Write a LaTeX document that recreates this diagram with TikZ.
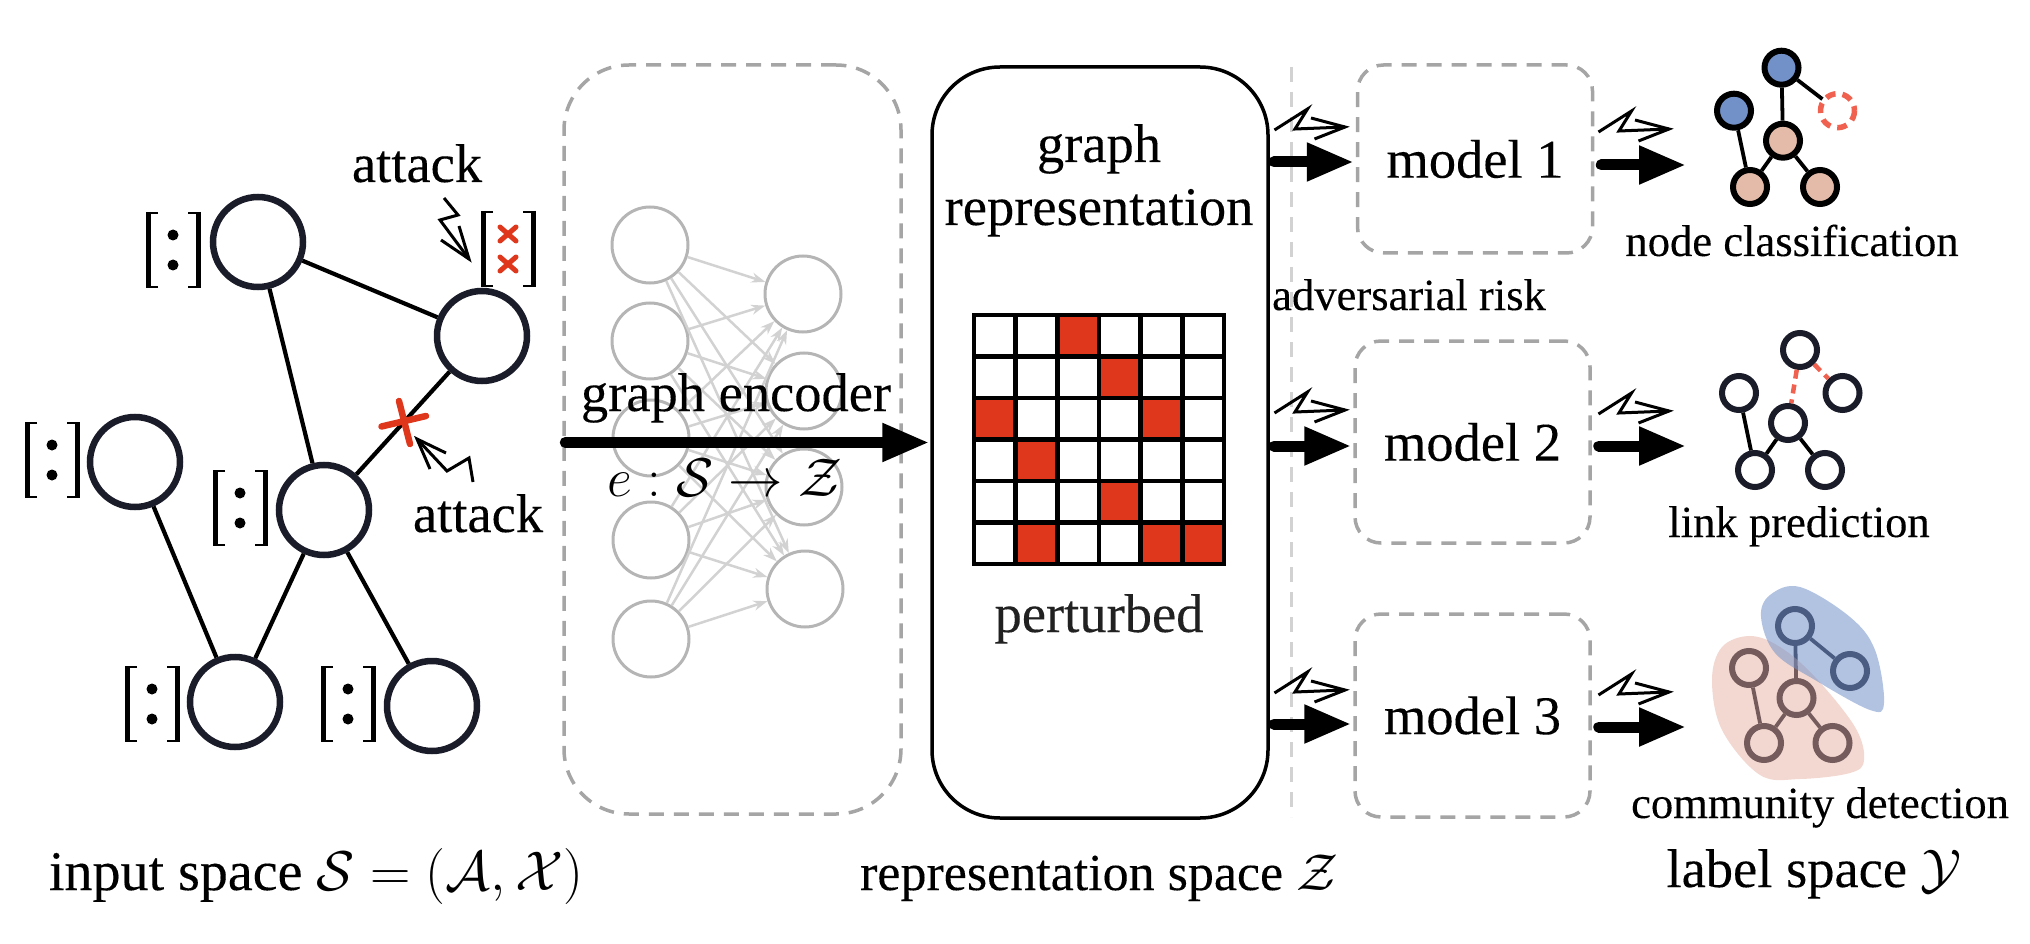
\documentclass[tikz,border=0pt]{standalone}
\usepackage{fix-cm}
\usepackage{amsmath}
\usepackage{fontspec}
\setmainfont{Liberation Serif}[UprightFeatures={FakeBold=0.2}]
\usetikzlibrary{arrows.meta,shapes.geometric}

\definecolor{attackred}{HTML}{DE371C}
\definecolor{softred}{HTML}{F0614F}
\definecolor{dashgray}{HTML}{A5A5A5}
\definecolor{nodenavy}{HTML}{1A1C2A}
\definecolor{nnnode}{HTML}{B5B5B5}
\definecolor{nnedge}{HTML}{D2D2D2}
\definecolor{classblue}{HTML}{7391C9}
\definecolor{classpink}{HTML}{E4BBA9}
\definecolor{blobpink}{HTML}{E4A898}

\tikzset{
  featvec/.pic={
    \draw[line width=2pt] (-15,-37) -- (-25,-37) (-15,37) -- (-25,37) (15,-37) -- (25,-37) (15,37) -- (25,37);
    \draw[line width=5pt] (-25,-38) -- (-25,38) (25,-38) -- (25,38);
    \fill (0,-15) circle (5.5) (0,15) circle (5.5);
  },
  attackvec/.pic={
    \draw[line width=2pt] (-15,-37) -- (-25,-37) (-15,37) -- (-25,37) (15,-37) -- (25,-37) (15,37) -- (25,37);
    \draw[line width=5pt] (-25,-38) -- (-25,38) (25,-38) -- (25,38);
    \draw[attackred, line width=5pt, line cap=round] (-8,-22) -- (8,-8) (-8,-8) -- (8,-22) (-8,8) -- (8,22) (-8,22) -- (8,8);
  },
  zap/.pic={
    \draw[line width=3pt] (-70.5,3) -- (-37.5,-18) -- (-50,2) -- (0,0);
    \draw[line width=3pt] (-34,-9) -- (0,0) -- (-30.5,12);
  }
}

\begin{document}
\begin{tikzpicture}[x=1pt, y=-1pt, font=\fontsize{54.5}{62}\selectfont]
\tikzstyle{gnode}=[circle, draw=nodenavy, line width=6.5pt, fill=white, minimum size=90pt, inner sep=0pt]
\tikzstyle{gedge}=[line width=4.2pt]
\tikzstyle{nnode}=[circle, draw=nnnode, line width=3pt, fill=none, minimum size=76pt, inner sep=0pt]
\tikzstyle{nedge}=[draw=nnedge, line width=2.5pt, -{Stealth[length=14pt, width=10pt]}]
\tikzstyle{bigarrow}=[line width=11pt, line cap=round, -{Triangle[length=47pt, width=36pt]}]
\tikzstyle{dashbox}=[draw=dashgray, line width=3.5pt, dash pattern=on 15pt off 10pt]
\tikzstyle{model}=[dashbox, rounded corners=26pt, minimum width=235pt]
\tikzstyle{lab}=[anchor=base, inner sep=0pt]
\tikzstyle{small}=[lab, font=\fontsize{44.6}{50}\selectfont]
\tikzstyle{inode}=[circle, line width=6pt, minimum size=34pt, inner sep=0pt, draw=black]
\tikzstyle{iedge}=[line width=3.8pt]
\path[use as bounding box] (0,0) rectangle (2030,944);

% input graph
\node[gnode] (v1) at (258,242) {};
\node[gnode] (v2) at (482,336) {};
\node[gnode] (v3) at (135,462) {};
\node[gnode] (v4) at (324,510) {};
\node[gnode] (v5) at (235,702) {};
\node[gnode] (v6) at (432,706) {};
\draw[gedge] (v1) -- (v2);
\draw[gedge] (v1) -- (v4);
\draw[gedge] (v2) -- (v4);
\draw[gedge] (v3) -- (v5);
\draw[gedge] (v4) -- (v5);
\draw[gedge] (v4) -- (v6);
\pic at (173,250) {featvec};
\pic at (52,460) {featvec};
\pic at (240,508) {featvec};
\pic at (152,704) {featvec};
\pic at (348,704) {featvec};
\pic at (508,249) {attackvec};
\draw[attackred, line width=6.5pt, line cap=round] (381.5,426.5) -- (426,416) (399,401) -- (410,444);
\draw[line width=3pt] (444,198) -- (458,215) -- (440,220) -- (469,259);
\draw[line width=3pt] (441,240) -- (469,259) -- (459,226);
\draw[line width=3pt] (473,482) -- (469,458) -- (447,471) -- (417,439);
\draw[line width=3pt] (446,453) -- (417,439) -- (430,469);
\node[lab] (attack1) at (417,182) {attack};
\node[lab] (attack2) at (478,532) {attack};

% encoder
\node[dashbox, rounded corners=65pt, minimum width=337pt, minimum height=749pt] (enc) at (732.5,439.5) {};
\foreach \i/\x/\y in {1/650/245, 2/650/341, 3/651/438, 4/651/540, 5/651/639}
  \node[nnode] (l\i) at (\x,\y) {};
\foreach \j/\x/\y in {1/803/294, 2/804/391, 3/804/487, 4/805/589}
  \node[nnode] (r\j) at (\x,\y) {};
\foreach \i in {1,...,5}
  \foreach \j in {1,...,4}
    \draw[nedge] (l\i) -- (r\j);
\node[lab] (enclab) at (736,411) {graph encoder};
\node[lab] (encmap) at (725,496) {$e:\mathcal{S}\rightarrow\mathcal{Z}$};

% representation
\node[draw, line width=3.5pt, rounded corners=68pt, minimum width=336pt, minimum height=751pt] (rep) at (1100,442.5) {};
\node[lab] (replab1) at (1099,162) {graph};
\node[lab] (replab2) at (1099,225) {representation};
\begin{scope}[shift={(974,315)}, x=41.67pt, y=-41.5pt]
  \foreach \r/\c in {0/2, 1/3, 2/0, 2/4, 3/1, 4/3, 5/1, 5/4, 5/5}
    \fill[attackred] (\c,\r) rectangle +(1,1);
  \foreach \k in {0,...,6}
    \draw[line width=4.5pt, line cap=rect] (\k,0) -- (\k,6) (0,\k) -- (6,\k);
\end{scope}
\node[lab, text=black!87] (perturbed) at (1099,632) {perturbed};
\draw[bigarrow, shorten <=3pt, shorten >=1pt] (enc.west |- rep.west) -- (rep.west);

% models
\draw[draw=nnedge, line width=3pt, dash pattern=on 15pt off 10pt] (1291,67) coordinate (risktop) -- (1291,817) coordinate (riskbot);
\node[model, minimum height=188pt] (m1) at (1475,159) {model 1\hspace{6pt}};
\node[model, minimum height=202pt] (m2) at (1472.5,442) {model 2};
\node[model, minimum height=203pt] (m3) at (1472.5,715.5) {model 3};
\node[small] (risk) at (1409,310) {adversarial risk};
\foreach \i/\ya/\yb in {1/162/165, 2/446/446, 3/724/727} {
  \coordinate (in\i) at (1268,\ya);
  \coordinate (out\i) at (1686,\yb);
  \draw[bigarrow, shorten <=6pt, shorten >=2pt] (in\i) -- (m\i.west |- in\i);
  \draw[bigarrow, shorten <=7pt] (m\i.east |- out\i) -- (out\i);
}
\pic at (1345,127) {zap};
\pic at (1345,410) {zap};
\pic at (1345,690) {zap};
\pic at (1669,129) {zap};
\pic at (1669,411) {zap};
\pic at (1669,692) {zap};

% node classification
\draw[line width=5.5pt, softred, dash pattern=on 10pt off 7pt] (1837.5,110.7) circle (17) coordinate (aC);
\node[inode, fill=classblue] (aA) at (1781.5,67.7) {};
\node[inode, fill=classblue] (aB) at (1734,110.7) {};
\node[inode, fill=classpink] (aD) at (1783,140.7) {};
\node[inode, fill=classpink] (aE) at (1750,187) {};
\node[inode, fill=classpink] (aF) at (1820,187) {};
\draw[iedge] (aA) -- (aD);
\draw[iedge, shorten >=19pt] (aA) -- (aC);
\draw[iedge] (aB) -- (aE);
\draw[iedge] (aD) -- (aE);
\draw[iedge] (aD) -- (aF);
\node[small] (nclab) at (1792,256) {node classification};

% link prediction
\foreach \n/\x/\y in {A/1800/350, B/1739/393, C/1842.5/393, D/1788/423, E/1755/470, F/1825/470}
  \node[inode, draw=nodenavy, fill=white] (b\n) at (\x,\y) {};
\draw[iedge] (bB) -- (bE);
\draw[iedge] (bD) -- (bE);
\draw[iedge] (bD) -- (bF);
\draw[softred, line width=4.5pt, dash pattern=on 9pt off 6pt] (bA) -- (bD);
\draw[softred, line width=4.5pt, dash pattern=on 9pt off 6pt] (bA) -- (bC);
\node[small] (lplab) at (1799,537) {link prediction};

% community detection
\foreach \n/\x/\y in {A/1795/626, B/1749/668, C/1850/671, D/1796.5/698, E/1764/743, F/1832.5/743}
  \node[inode, draw=nodenavy, fill=white] (c\n) at (\x,\y) {};
\draw[iedge, draw=nodenavy] (cA) -- (cC);
\draw[iedge, draw=nodenavy] (cA) -- (cD);
\draw[iedge, draw=nodenavy] (cB) -- (cE);
\draw[iedge, draw=nodenavy] (cD) -- (cE);
\draw[iedge, draw=nodenavy] (cD) -- (cF);
\fill[blobpink, fill opacity=.45] plot[smooth cycle, tension=.6] coordinates {(1750,636) (1722,647) (1712,680) (1722,730) (1760,775) (1800,779) (1850,773) (1864,760) (1855,727) (1815,677) (1780,647)};
\fill[classblue, fill opacity=.55] plot[smooth cycle, tension=.6] coordinates {(1800,587) (1770,595) (1761,617) (1775,653) (1815,680) (1870,710) (1884,703) (1875,650) (1850,617)};
\node[small] (cdlab) at (1820,818) {community detection};

% spaces
\node[lab, font=\fontsize{56}{62}\selectfont] (spacein) at (316,890) {input space $\mathcal{S}=(\mathcal{A},\mathcal{X})$};
\node[lab, font=\fontsize{52}{62}\selectfont] (spacerep) at (1099,890) {representation space $\mathcal{Z}$};
\node[lab] (spacelab) at (1814,887) {label space $\mathcal{Y}$};
\end{tikzpicture}
\end{document}
